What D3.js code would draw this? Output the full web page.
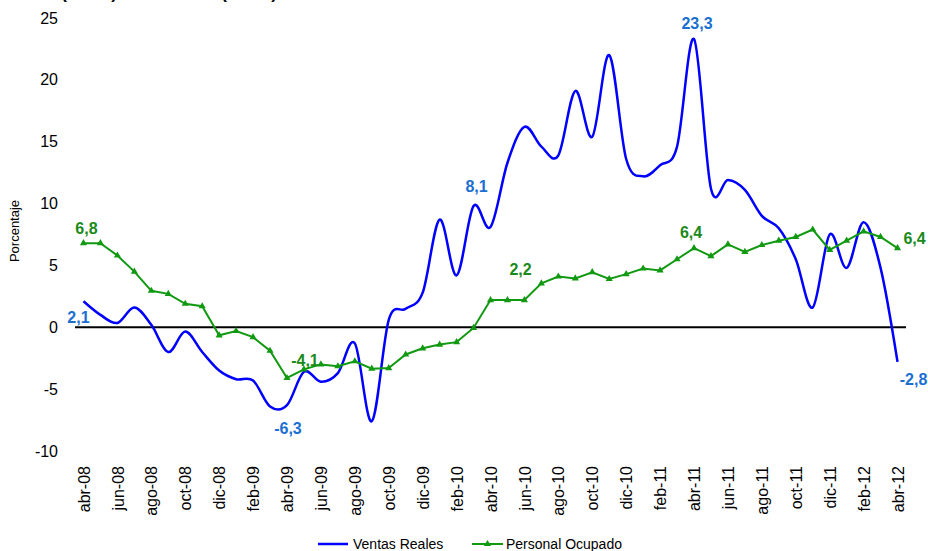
<!DOCTYPE html>
<html>
<head>
<meta charset="utf-8">
<script src="https://cdn.jsdelivr.net/npm/d3@7"></script>
<style>
  body { margin: 0; background: #fff; }
  svg { font-family: "Liberation Sans", Arial, sans-serif; }
</style>
</head>
<body>
<script>
// months, abr-08 .. abr-12
var months = ["abr-08","may-08","jun-08","jul-08","ago-08","sep-08","oct-08","nov-08","dic-08",
  "ene-09","feb-09","mar-09","abr-09","may-09","jun-09","jul-09","ago-09","sep-09","oct-09","nov-09","dic-09",
  "ene-10","feb-10","mar-10","abr-10","may-10","jun-10","jul-10","ago-10","sep-10","oct-10","nov-10","dic-10",
  "ene-11","feb-11","mar-11","abr-11","may-11","jun-11","jul-11","ago-11","sep-11","oct-11","nov-11","dic-11",
  "ene-12","feb-12","mar-12","abr-12"];

var ventas = [2.1, 1.0, 0.35, 1.6, 0.2, -2.0, -0.35, -2.0, -3.5,
  -4.2, -4.3, -6.4, -6.3, -3.6, -4.4, -3.7, -1.3, -7.6, 0.6, 1.5, 2.8,
  8.7, 4.2, 9.8, 8.1, 13.3, 16.2, 14.6, 13.9, 19.1, 15.4, 22.0, 13.6,
  12.2, 13.1, 14.6, 23.3, 11.2, 11.9, 11.1, 9.0, 8.0, 5.5, 1.6, 7.5,
  4.8, 8.5, 4.8, -2.8];

var personal = [6.8, 6.8, 5.8, 4.5, 2.95, 2.7, 1.9, 1.7, -0.65,
  -0.3, -0.8, -1.9, -4.1, -3.4, -3.0, -3.15, -2.75, -3.35, -3.3, -2.2, -1.7,
  -1.4, -1.2, -0.05, 2.2, 2.2, 2.2, 3.55, 4.1, 3.95, 4.45, 3.9, 4.3,
  4.75, 4.6, 5.5, 6.4, 5.75, 6.7, 6.1, 6.65, 7.0, 7.3, 7.9, 6.25,
  7.0, 7.75, 7.3, 6.4];

var yTicks = [-10, -5, 0, 5, 10, 15, 20, 25];
var labelMonths = ["abr-08","abr-09","abr-10","abr-11","abr-12"];

var width = 928, height = 551;

var svg = d3.select("body").append("svg")
    .attr("width", width)
    .attr("height", height);

var x = d3.scalePoint().domain(months).range([75, 906]).padding(0.5);
var y = d3.scaleLinear().domain([-10, 25]).range([451, 18]);

// title, mostly above the window
var title = svg.append("text")
    .attr("y", -1)
    .style("font-size", "17px")
    .style("font-weight", "bold");
title.append("tspan").attr("x", 117).attr("text-anchor", "end").text("Ventas (anual)");
title.append("tspan").attr("x", 277).attr("text-anchor", "end").text("Índice (anual)");

// y axis labels
var yAxis = d3.axisLeft(y).tickValues(yTicks).tickSize(0).tickPadding(0).tickFormat(d3.format("d"));
var gy = svg.append("g")
    .attr("transform", "translate(58,0)")
    .call(yAxis);
gy.select(".domain").remove();
gy.selectAll("text")
    .style("font-size", "16px")
    .style("font-family", "'Liberation Sans', Arial, sans-serif")
    .attr("fill", "#000")
    .text(function(d) { return d < 0 ? "-" + Math.abs(d) : d; });

svg.append("text")
    .attr("transform", "translate(19,231) rotate(-90)")
    .attr("text-anchor", "middle")
    .style("font-size", "13px")
    .text("Porcentaje");

// x axis labels, every other month
var xAxis = d3.axisBottom(x)
    .tickValues(months.filter(function(d, i) { return i % 2 == 0; }))
    .tickSize(0);
var gx = svg.append("g")
    .attr("transform", "translate(0,466)")
    .call(xAxis);
gx.select(".domain").remove();
gx.selectAll("text")
    .style("font-size", "16px")
    .style("font-family", "'Liberation Sans', Arial, sans-serif")
    .attr("fill", "#000")
    .attr("text-anchor", "end")
    .attr("transform", "rotate(-90)")
    .attr("x", 0)
    .attr("y", 0)
    .attr("dy", ".35em");

// zero line
svg.append("line")
    .attr("x1", 75).attr("x2", 906)
    .attr("y1", y(0)).attr("y2", y(0))
    .attr("stroke", "#000")
    .attr("stroke-width", 2);

// ventas reales, smoothed
var lineV = d3.line()
    .x(function(d, i) { return x(months[i]); })
    .y(function(d) { return y(d); })
    .curve(d3.curveCatmullRom.alpha(0));

svg.append("path")
    .datum(ventas)
    .attr("fill", "none")
    .attr("stroke", "#0000ff")
    .attr("stroke-width", 2.5)
    .attr("d", lineV);

// personal ocupado
var lineP = d3.line()
    .x(function(d, i) { return x(months[i]); })
    .y(function(d) { return y(d); });

svg.append("path")
    .datum(personal)
    .attr("fill", "none")
    .attr("stroke", "#119911")
    .attr("stroke-width", 2)
    .attr("d", lineP);

var tri = d3.symbol().type(d3.symbolTriangle).size(22);
svg.selectAll(".tri")
    .data(personal)
    .enter().append("path")
    .attr("class", "tri")
    .attr("d", tri)
    .attr("fill", "#119911")
    .attr("transform", function(d, i) { return "translate(" + x(months[i]) + "," + y(d) + ")"; });

// data labels (April of each year)
var fmt = function(v) { return String(v.toFixed(1)).replace(".", ","); };
var ventasOff = [[-5, 22], [1, 29], [-14, -35], [3, -10], [16, 23]];
var personalOff = [[3, -9], [18, -12], [30, -25], [-3, -10], [17, -4]];

labelMonths.forEach(function(m, k) {
  var i = months.indexOf(m);
  svg.append("text")
      .attr("x", x(m) + ventasOff[k][0])
      .attr("y", y(ventas[i]) + ventasOff[k][1])
      .attr("text-anchor", "middle")
      .attr("fill", "#1a6fd1")
      .style("font-size", "16px")
      .style("font-weight", "bold")
      .text(fmt(ventas[i]));
  svg.append("text")
      .attr("x", x(m) + personalOff[k][0])
      .attr("y", y(personal[i]) + personalOff[k][1])
      .attr("text-anchor", "middle")
      .attr("fill", "#1a8a1a")
      .style("font-size", "16px")
      .style("font-weight", "bold")
      .text(fmt(personal[i]));
});

// legend
var legend = svg.append("g").attr("transform", "translate(0,544)");
legend.append("line")
    .attr("x1", 318).attr("x2", 348)
    .attr("stroke", "#0000ff").attr("stroke-width", 2.5);
legend.append("text")
    .attr("x", 353).attr("y", 5)
    .style("font-size", "14px")
    .text("Ventas Reales");
legend.append("line")
    .attr("x1", 472).attr("x2", 503)
    .attr("stroke", "#119911").attr("stroke-width", 2);
legend.append("path")
    .attr("d", tri)
    .attr("fill", "#119911")
    .attr("transform", "translate(487.5,0)");
legend.append("text")
    .attr("x", 506).attr("y", 5)
    .style("font-size", "14px")
    .text("Personal Ocupado");
</script>
</body>
</html>
